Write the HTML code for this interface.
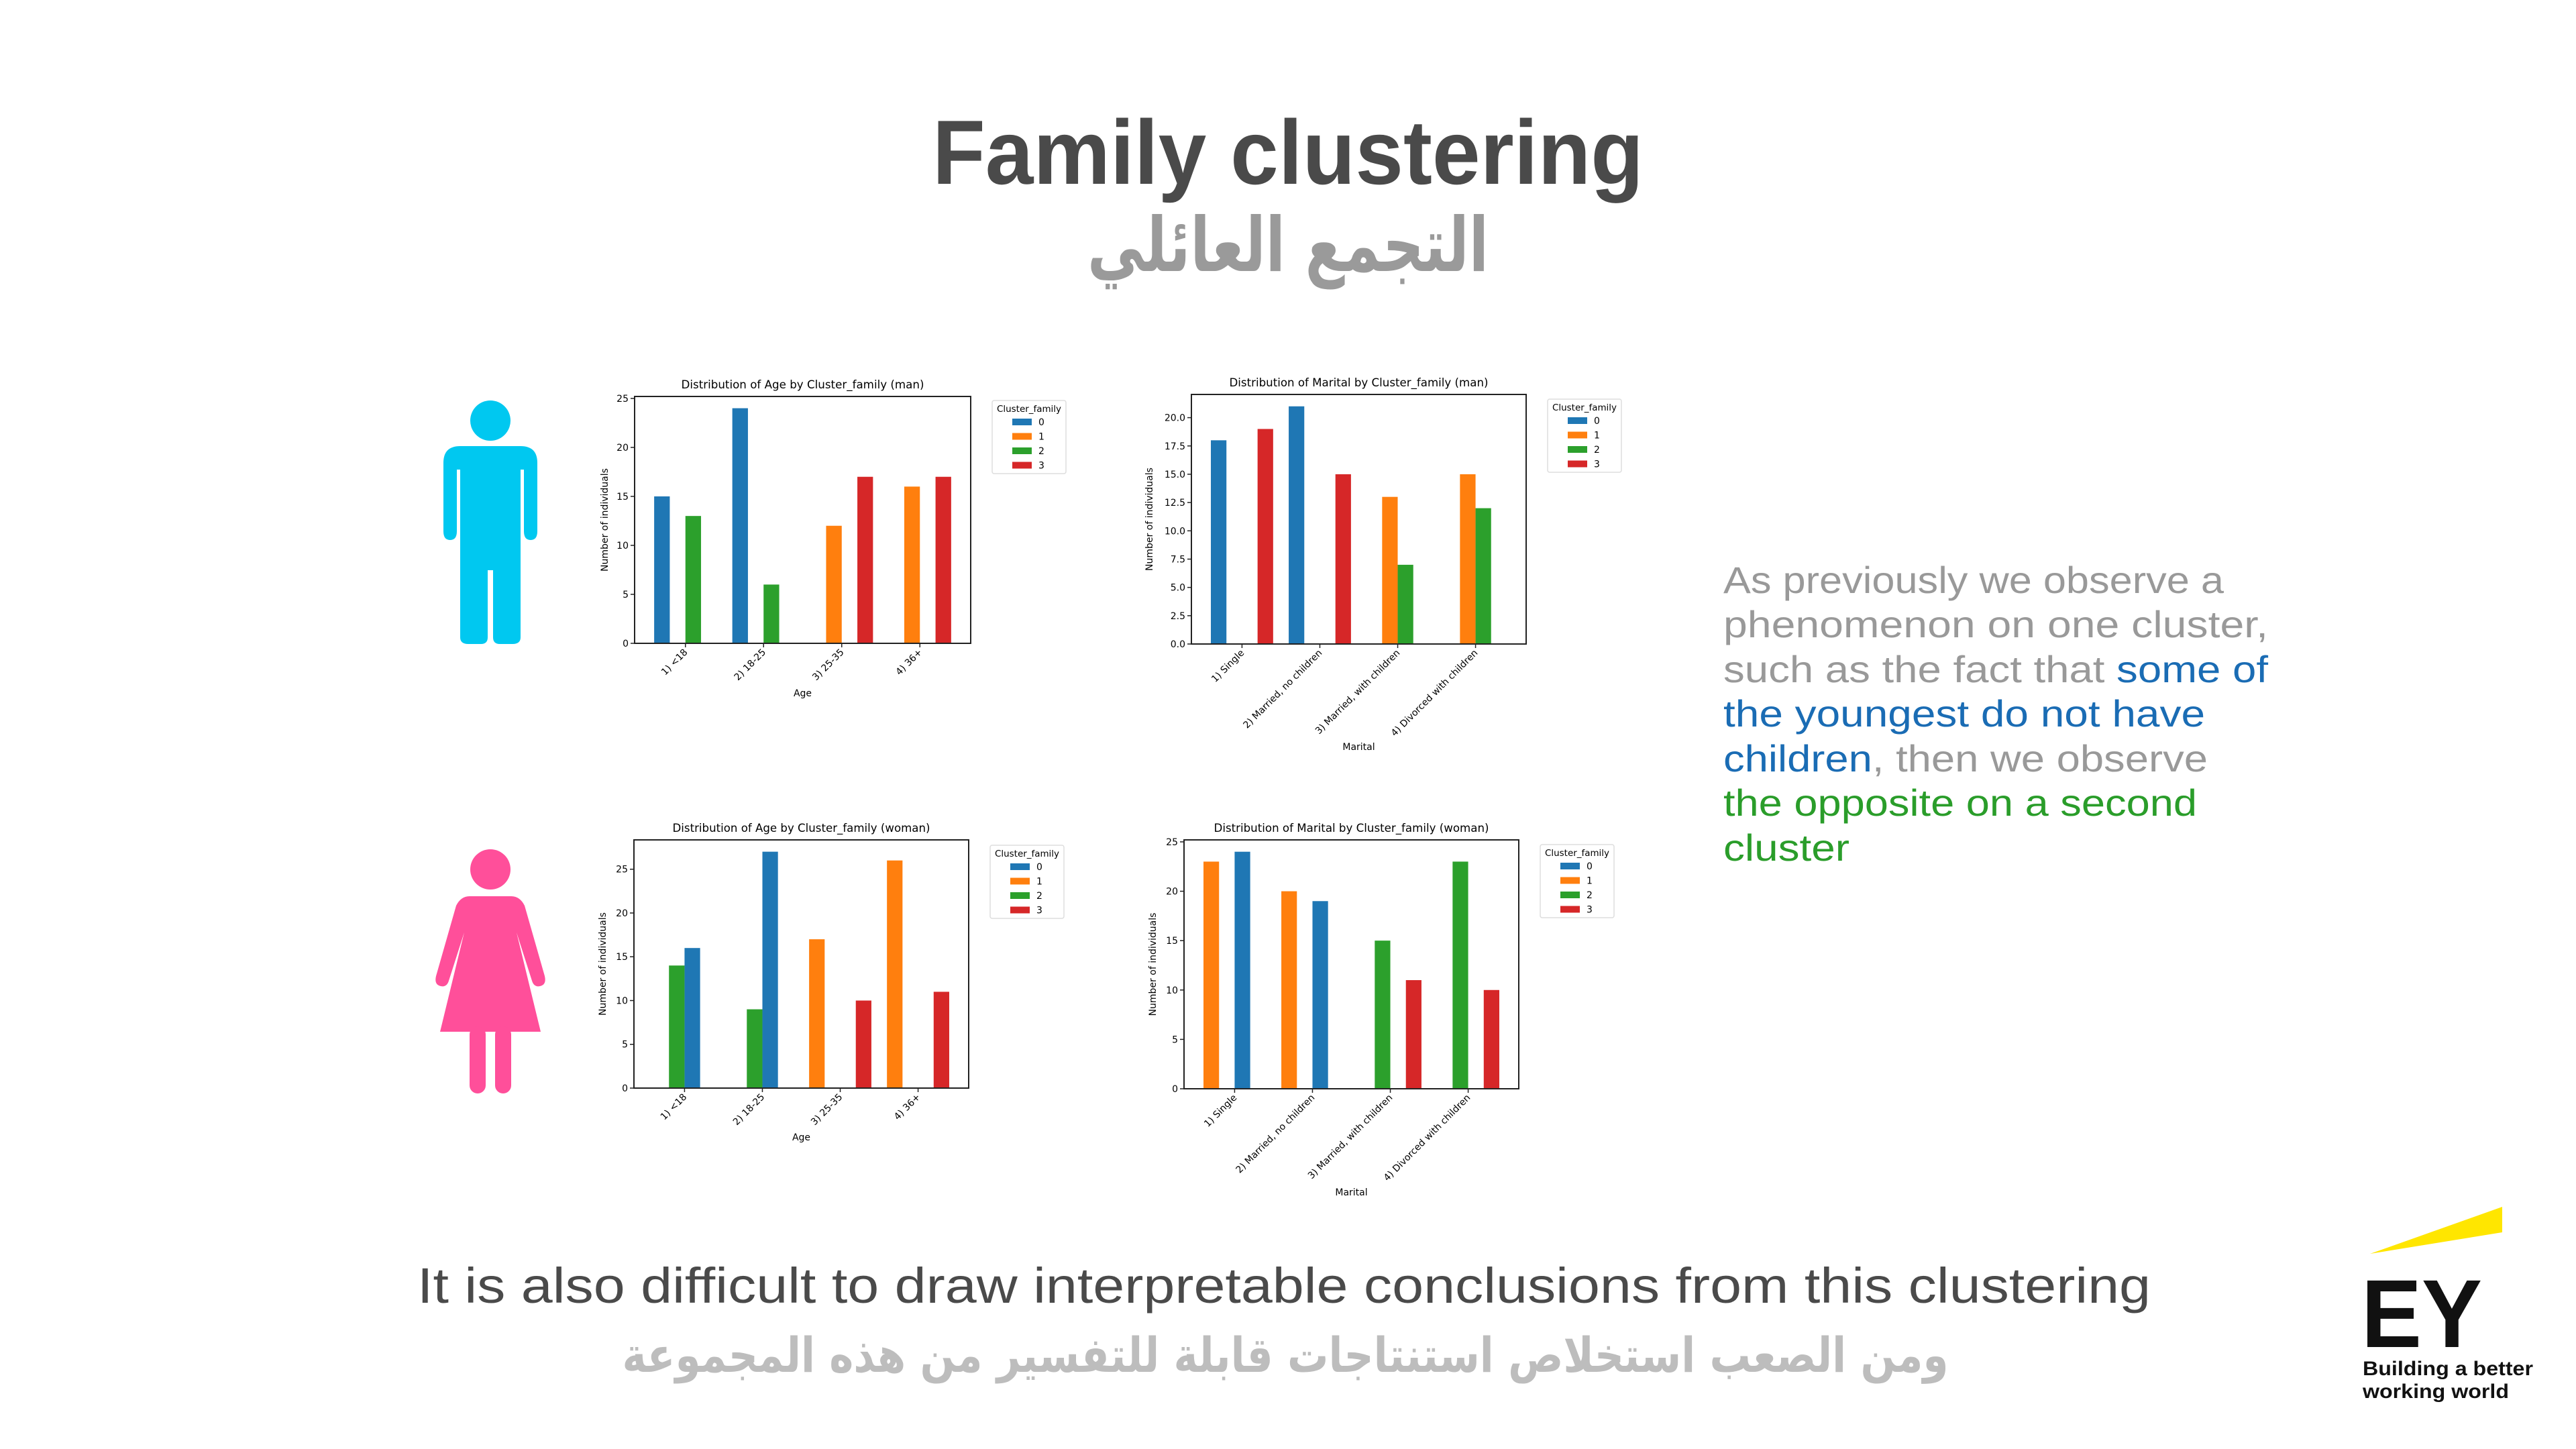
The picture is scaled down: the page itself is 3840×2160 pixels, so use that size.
<!DOCTYPE html>
<html><head><meta charset="utf-8"><style>
html,body{margin:0;padding:0;background:#fff;}
svg{display:block;}
</style></head><body>
<svg id="root" xmlns="http://www.w3.org/2000/svg" width="3840" height="2160" viewBox="0 0 3840 2160">
<rect x="0" y="0" width="3840" height="2160" fill="#fff"/>
<text x="1920" y="274" text-anchor="middle" font-family="Liberation Sans, sans-serif" font-weight="bold" font-size="136" fill="#4a4a4a" textLength="1060" lengthAdjust="spacingAndGlyphs">Family clustering</text>
<text x="1920" y="404" text-anchor="middle" font-family="DejaVu Sans, Noto Sans CJK SC, sans-serif" font-weight="bold" font-size="112" fill="#9a9a9a" textLength="598" lengthAdjust="spacingAndGlyphs" direction="rtl">التجمع العائلي</text>

<g fill="#00c8f0">
<circle cx="731" cy="627" r="30"/>
<path d="M686,665 H776 Q801,665 801,690 V792 Q801,805 791,805 Q781,805 781,792 V700 H776 V950 Q776,960 764,960 H745 Q735,960 735,950 V850 H727 V950 Q727,960 717,960 H698 Q686,960 686,950 V700 H681 V792 Q681,805 671,805 Q661,805 661,792 V690 Q661,665 686,665 Z"/>
</g>
<g fill="#ff4f9a">
<circle cx="731" cy="1296" r="30"/>
<path d="M700,1336 H762 Q775,1336 782,1350 L812,1455 Q815,1468 805,1470 Q796,1472 793,1462 L770,1390 L806,1538 H656 L692,1390 L669,1462 Q666,1472 657,1470 Q647,1468 650,1455 L680,1350 Q687,1336 700,1336 Z"/>
<rect x="700" y="1530" width="24" height="100" rx="12"/>
<rect x="738" y="1530" width="24" height="100" rx="12"/>
</g>

<g id="charts"></g>

<g font-family="Liberation Sans, sans-serif" font-size="56" fill="#999">
<text x="2569" y="884" textLength="746" lengthAdjust="spacingAndGlyphs">As previously we observe a</text>
<text x="2569" y="950" textLength="812" lengthAdjust="spacingAndGlyphs">phenomenon on one cluster,</text>
<text x="2569" y="1017" textLength="812" lengthAdjust="spacingAndGlyphs">such as the fact that <tspan fill="#1a6cb4">some of</tspan></text>
<text x="2569" y="1083" fill="#1a6cb4" textLength="718" lengthAdjust="spacingAndGlyphs">the youngest do not have</text>
<text x="2569" y="1150" textLength="722" lengthAdjust="spacingAndGlyphs"><tspan fill="#1a6cb4">children</tspan>, then we observe</text>
<text x="2569" y="1216" fill="#2a9d2a" textLength="706" lengthAdjust="spacingAndGlyphs">the opposite on a second</text>
<text x="2569" y="1283" fill="#2a9d2a" textLength="188" lengthAdjust="spacingAndGlyphs">cluster</text>
</g>

<text x="1914" y="1942" text-anchor="middle" font-family="Liberation Sans, sans-serif" font-size="74" fill="#4a4a4a" textLength="2584" lengthAdjust="spacingAndGlyphs">It is also difficult to draw interpretable conclusions from this clustering</text>
<text x="1916" y="2045" text-anchor="middle" font-family="DejaVu Sans, sans-serif" font-weight="bold" font-size="72" fill="#bdbdbd" textLength="1977" lengthAdjust="spacingAndGlyphs" direction="rtl">ومن الصعب استخلاص استنتاجات قابلة للتفسير من هذه المجموعة</text>

<g>
<polygon points="3533,1869 3730,1799 3730,1837" fill="#ffe600"/>
<text x="3520" y="2008" font-family="Liberation Sans, sans-serif" font-weight="bold" font-size="144" fill="#111" textLength="180" lengthAdjust="spacingAndGlyphs">EY</text>
<text x="3522" y="2050" font-family="Liberation Sans, sans-serif" font-weight="bold" font-size="30" fill="#111" textLength="254" lengthAdjust="spacingAndGlyphs">Building a better</text>
<text x="3522" y="2084" font-family="Liberation Sans, sans-serif" font-weight="bold" font-size="30" fill="#111" textLength="218" lengthAdjust="spacingAndGlyphs">working world</text>
</g>
</svg>
<script>
const ageCats = ['1) <18','2) 18-25','3) 25-35','4) 36+'];
const maritalCats = ['1) Single','2) Married, no children','3) Married, with children','4) Divorced with children'];
const clusterLabels = ['0','1','2','3'];
const manAgeC0 = [15,24,0,0];
const manAgeC1 = [0,0,12,16];
const manAgeC2 = [13,6,0,0];
const manAgeC3 = [0,0,17,17];
const manMarC0 = [18,21,0,0];
const manMarC1 = [0,0,13,15];
const manMarC2 = [0,0,7,12];
const manMarC3 = [19,15,0,0];
const womAgeC0 = [16,27,0,0];
const womAgeC1 = [0,0,17,26];
const womAgeC2 = [14,9,0,0];
const womAgeC3 = [0,0,10,11];
const womMarC0 = [24,19,0,0];
const womMarC1 = [23,20,0,0];
const womMarC2 = [0,0,15,23];
const womMarC3 = [0,0,11,10];
const ticksInt = [0,5,10,15,20,25];
const ticksHalf = [0,2.5,5,7.5,10,12.5,15,17.5,20];
const colors = ['#1f77b4','#ff7f0e','#2ca02c','#d62728'];
const NS = 'http://www.w3.org/2000/svg';
const root = document.getElementById('charts');

function mk(tag, attrs, parent, txt){
  const e = document.createElementNS(NS, tag);
  for (const k in attrs) e.setAttribute(k, attrs[k]);
  if (txt !== undefined) e.textContent = txt;
  parent.appendChild(e);
  return e;
}

function chart(cfg){
  const g = mk('g', {}, root);
  
  
  const L=cfg.l, R=cfg.r, T=cfg.t, B=cfg.b, W=R-L, H=B-T;
  const ymax = Math.max(...cfg.series.flat()) * 1.05;
  const x = v => L + (v + 0.65) / 4.3 * W;
  const y = v => B - v / ymax * H;
  const font = 'DejaVu Sans, Liberation Sans, sans-serif';
  const title = mk('text', {x: (L+R)/2, y: T-12, 'text-anchor':'middle', 'font-family':font, 'font-size':17, fill:'#000', textLength: cfg.titleLen, lengthAdjust:'spacingAndGlyphs'}, g, cfg.title);
  
  
  cfg.series.forEach((vals, s) => {
    const off = cfg.offsets[s];
    vals.forEach((v, i) => {
      if (v <= 0) return;
      const cx = x(i + off);
      const bw = 0.2 / 4.3 * W;
      const r = mk('rect', {x: cx - bw/2, y: y(v), width: bw, height: y(0) - y(v), fill: colors[s]}, g);
      
      
    });
  });
  const fr = mk('rect', {x:L, y:T, width:W, height:H, fill:'none', stroke:'#222', 'stroke-width':2}, g);
  
  
  cfg.yticks.forEach(t => {
    mk('line', {x1:L-6, x2:L, y1:y(t), y2:y(t), stroke:'#222', 'stroke-width':1.5}, g);
    const tl = mk('text', {x:L-9, y:y(t)+5, 'text-anchor':'end', 'font-family':font, 'font-size':14, fill:'#000'}, g, cfg.fmt(t));
    
    
  });
  cfg.cats.forEach((c, i) => {
    const tx = x(i);
    mk('line', {x1:tx, x2:tx, y1:B, y2:B+6, stroke:'#222', 'stroke-width':1.5}, g);
    const tl = mk('text', {x:tx+4, y:B+14, 'text-anchor':'end', 'font-family':font, 'font-size':14, fill:'#000', transform:'rotate(-45 '+(tx+4)+' '+(B+14)+')'}, g, c);
    
    
  });
  const xl = mk('text', {x:(L+R)/2, y:cfg.xlY, 'text-anchor':'middle', 'font-family':font, 'font-size':14, fill:'#000'}, g, cfg.xlabel);
  
  
  const yx = L - cfg.ylOff, yy = (T+B)/2;
  const yl = mk('text', {x:yx, y:yy, 'text-anchor':'middle', 'font-family':font, 'font-size':14, fill:'#000', transform:'rotate(-90 '+yx+' '+yy+')'}, g, 'Number of individuals');
  
  
  const lg = mk('g', {}, g);
  
  
  const lx = cfg.legX, ly = cfg.legY;
  mk('rect', {x:lx, y:ly, width:110, height:109, rx:3, fill:'#fff', stroke:'#ddd', 'stroke-width':1.5}, lg);
  mk('text', {x:lx+55, y:ly+17, 'text-anchor':'middle', 'font-family':font, 'font-size':13, fill:'#000', textLength:96, lengthAdjust:'spacingAndGlyphs'}, lg, 'Cluster_family');
  clusterLabels.forEach((lab, k) => {
    const ey = ly + 32 + k * 21.5;
    const p = mk('rect', {x:lx+30, y:ey-5, width:29, height:10, fill:colors[k]}, lg);
    
    
    const t = mk('text', {x:lx+69, y:ey+5, 'font-family':font, 'font-size':14, fill:'#000'}, lg, lab);
    
    
  });
}

chart({name:'chart-age-man', title:'Distribution of Age by Cluster_family (man)', titleLen:362,
  l:946, r:1447, t:591, b:959, cats:ageCats, xlabel:'Age', xlY:1038, ylOff:40,
  series:[manAgeC0, manAgeC1, manAgeC2, manAgeC3], offsets:[-0.3,-0.1,0.1,0.3],
  yticks:ticksInt, fmt:t=>String(t), legX:1479, legY:597});
chart({name:'chart-marital-man', title:'Distribution of Marital by Cluster_family (man)', titleLen:386,
  l:1776, r:2275, t:588, b:960, cats:maritalCats, xlabel:'Marital', xlY:1118, ylOff:58,
  series:[manMarC0, manMarC1, manMarC2, manMarC3], offsets:[-0.3,-0.1,0.1,0.3],
  yticks:ticksHalf, fmt:t=>t.toFixed(1), legX:2307, legY:595});
chart({name:'chart-age-woman', title:'Distribution of Age by Cluster_family (woman)', titleLen:384,
  l:945, r:1444, t:1252, b:1622, cats:ageCats, xlabel:'Age', xlY:1700, ylOff:42,
  series:[womAgeC0, womAgeC1, womAgeC2, womAgeC3], offsets:[0.1,-0.3,-0.1,0.3],
  yticks:ticksInt, fmt:t=>String(t), legX:1476, legY:1260});
chart({name:'chart-marital-woman', title:'Distribution of Marital by Cluster_family (woman)', titleLen:410,
  l:1765, r:2264, t:1252, b:1623, cats:maritalCats, xlabel:'Marital', xlY:1782, ylOff:42,
  series:[womMarC0, womMarC1, womMarC2, womMarC3], offsets:[0.1,-0.3,-0.1,0.3],
  yticks:ticksInt, fmt:t=>String(t), legX:2296, legY:1259});
</script>
</body></html>
